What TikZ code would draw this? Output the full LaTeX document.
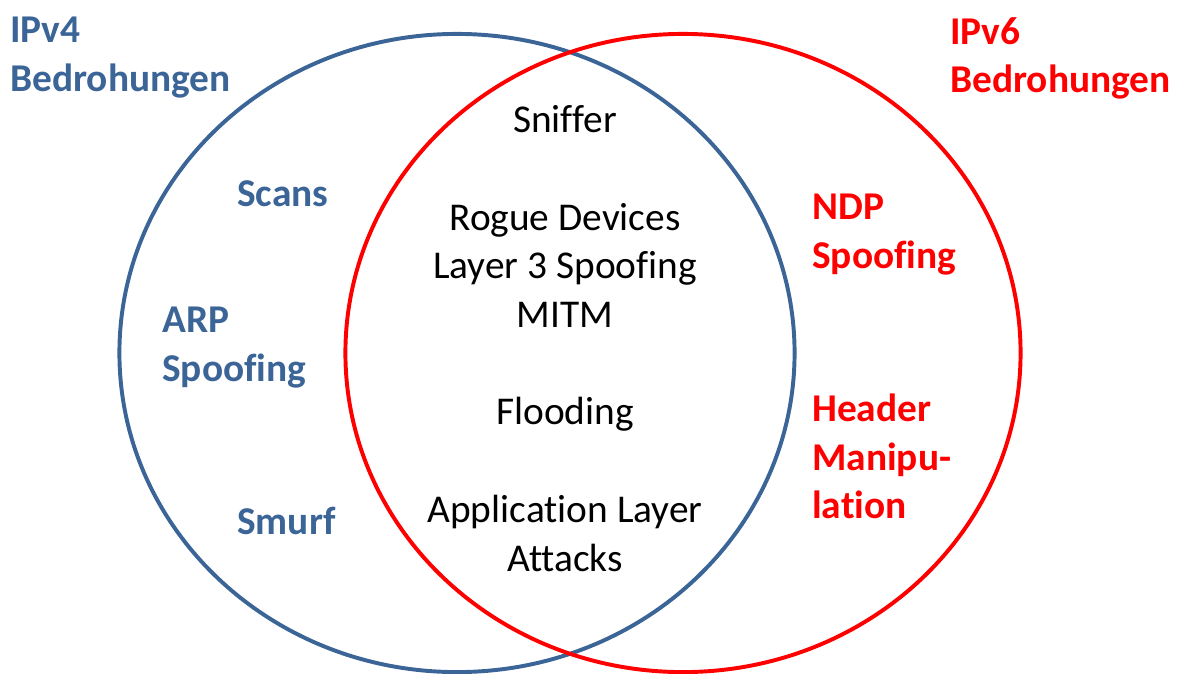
\documentclass[tikz,border=0pt]{standalone}
\usepackage{fontspec}
\setmainfont{Carlito}[Ligatures={NoCommon,NoContextual}]
\definecolor{vierblau}{RGB}{59,100,151}
\definecolor{sechsrot}{RGB}{255,0,0}
\tikzset{
  kreis/.style={line width=2.8pt},
  mitte/.style={font=\fontsize{28}{34.5}\selectfont, align=center, inner sep=0pt, anchor=north},
  vier/.style={font=\fontsize{28}{34.5}\selectfont\bfseries, align=left, inner sep=0pt, anchor=north west, text=vierblau},
  sechs/.style={font=\fontsize{28}{34.5}\selectfont\bfseries, align=left, inner sep=0pt, anchor=north west, text=sechsrot}
}
\begin{document}
\begin{tikzpicture}[x=0.025cm,y=-0.025cm]
  \useasboundingbox (0,0) rectangle (1180,673);
  \draw[kreis,vierblau] (457,353) ellipse [x radius=8.4375cm, y radius=7.975cm];
  \draw[kreis,sechsrot] (683,353) ellipse [x radius=8.4375cm, y radius=7.975cm];
  % Titel
  \node[vier] (v4titel) at (10,17) {IPv4\\Bedrohungen};
  \node[sechs] (v6titel) at (950,17) {IPv6\\Bedrohungen};
  % nur IPv4
  \node[vier] (scans) at (237,180) {Scans};
  \node[vier] (arp) at (162,307) {ARP\\Spoofing};
  \node[vier] (smurf) at (237,507) {Smurf};
  % beide
  \node[mitte] (sniffer) at (565,105) {Sniffer};
  \node[mitte] (rogue) at (565,203) {Rogue Devices\\Layer 3 Spoofing\\MITM};
  \node[mitte] (flood) at (565,397) {Flooding};
  \node[mitte] (appl) at (565,495) {Application Layer\\Attacks};
  % nur IPv6
  \node[sechs] (ndp) at (812,194) {NDP\\Spoofing};
  \node[sechs] (header) at (812,394) {Header\\Manipu-\\lation};
\end{tikzpicture}
\end{document}
